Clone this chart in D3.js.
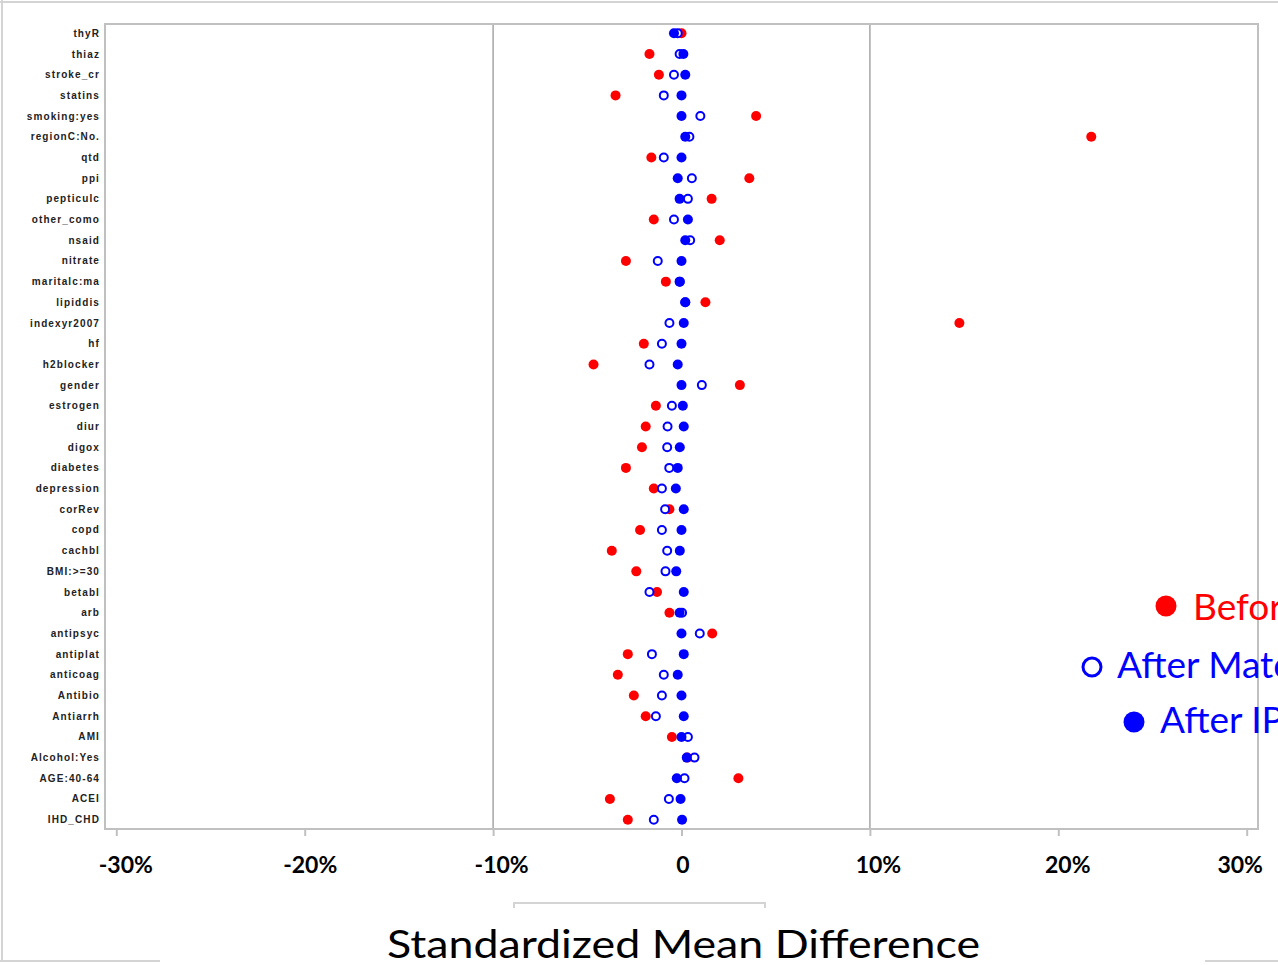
<!DOCTYPE html>
<html lang="en">
<head>
    <meta charset="UTF-8">
    <title>Standardized Mean Difference</title>
    <script src="https://d3js.org/d3.v7.min.js"></script>
    <style>
        body {
            margin: 0;
            background: #fff;
        }
        svg {
            display: block;
        }
        .cov-label {
            font-family: Arial, "Liberation Sans", sans-serif;
            font-size: 10px;
            font-weight: bold;
            letter-spacing: 1.1px;
            fill: #222;
        }
        .tick-label {
            font-family: Lato, sans-serif;
            font-size: 23px;
            font-weight: bold;
            fill: #000;
        }
        .legend-text {
            font-family: Lato, sans-serif;
            font-size: 37px;
        }
        .title {
            font-family: Lato, sans-serif;
            font-size: 39px;
            fill: #000;
        }
    </style>
</head>
<body>
    <div id="chart"></div>

    <script>
        // covariates, top to bottom
        const covariates = ["thyR", "thiaz", "stroke_cr", "statins", "smoking:yes", "regionC:No.", "qtd", "ppi",
            "pepticulc", "other_como", "nsaid", "nitrate", "maritalc:ma", "lipiddis", "indexyr2007", "hf",
            "h2blocker", "gender", "estrogen", "diur", "digox", "diabetes", "depression", "corRev", "copd",
            "cachbl", "BMI:>=30", "betabl", "arb", "antipsyc", "antiplat", "anticoag", "Antibio", "Antiarrh",
            "AMI", "Alcohol:Yes", "AGE:40-64", "ACEI", "IHD_CHD"];

        // standardized mean differences, in percent
        const beforeMatching = [0.0, -1.7, -1.2, -3.5, 3.96, 21.75, -1.6, 3.6,
            1.6, -1.47, 2.03, -2.95, -0.83, 1.27, 14.75, -2.0,
            -4.67, 3.1, -1.36, -1.9, -2.1, -2.95, -1.47, -0.64, -2.2,
            -3.7, -2.4, -1.3, -0.64, 1.63, -2.85, -3.38, -2.53, -1.9,
            -0.51, 0.3, 3.02, -3.8, -2.85];
        const afterMatching = [-0.2, -0.1, -0.4, -0.94, 1.0, 0.42, -0.94, 0.55,
            0.34, -0.4, 0.46, -1.26, -0.1, 0.2, -0.64, -1.04,
            -1.7, 1.08, -0.51, -0.74, -0.76, -0.65, -1.04, -0.87, -1.04,
            -0.76, -0.85, -1.7, 0.03, 0.97, -1.57, -0.94, -1.04, -1.36,
            0.34, 0.69, 0.16, -0.67, -1.47];
        const afterIPTW = [-0.4, 0.1, 0.2, 0.0, 0.0, 0.2, 0.0, -0.2,
            -0.1, 0.34, 0.2, 0.0, -0.09, 0.2, 0.12, 0.0,
            -0.2, 0.0, 0.07, 0.12, -0.09, -0.2, -0.3, 0.12, 0.0,
            -0.09, -0.28, 0.12, -0.1, 0.0, 0.12, -0.2, 0.0, 0.12,
            0.0, 0.28, -0.25, -0.05, 0.03];

        const xTicks = [-30, -20, -10, 0, 10, 20, 30];
        const xTickLabels = ["-30%", "-20%", "-10%", "0", "10%", "20%", "30%"];
        const refLines = [-10, 10];

        const legendItems = ["Before Matching", "After Matching", "After IPTW"];

        const width = 1278;
        const height = 965;
        const plot = { left: 105, right: 1258, top: 24, bottom: 829 };
        // labels sit a little off their ticks in the original
        const tickLabelShift = [9, 5, 8, 1, 8, 9, -7];

        const svg = d3.select("#chart")
            .append("svg")
            .attr("width", width)
            .attr("height", height);

        const x = d3.scaleLinear()
            .domain([-30.6, 30.6])
            .range([plot.left, plot.right]);

        const y = d3.scalePoint()
            .domain(covariates)
            .range([plot.top, plot.bottom])
            .padding(0.45);

        // outer slide frame
        svg.append("g")
            .attr("stroke", "#d4d4d4")
            .attr("stroke-width", 2)
            .selectAll("line")
            .data([[0, 2, width, 2], [2, 0, 2, 962], [0, 961, 160, 961], [1205, 961, width, 961]])
            .enter()
            .append("line")
            .attr("x1", d => d[0]).attr("y1", d => d[1])
            .attr("x2", d => d[2]).attr("y2", d => d[3]);

        // reference lines at +/-10%
        svg.append("g")
            .selectAll("line")
            .data(refLines)
            .enter()
            .append("line")
            .attr("x1", d => x(d)).attr("x2", d => x(d))
            .attr("y1", plot.top).attr("y2", plot.bottom)
            .attr("stroke", "#a6a6a6")
            .attr("stroke-width", 1.5);

        // plot frame
        svg.append("rect")
            .attr("x", plot.left)
            .attr("y", plot.top)
            .attr("width", plot.right - plot.left)
            .attr("height", plot.bottom - plot.top)
            .attr("fill", "none")
            .attr("stroke", "#c0c0c0")
            .attr("stroke-width", 2);

        // x axis ticks and labels
        const xAxis = svg.append("g")
            .attr("transform", `translate(0,${plot.bottom})`)
            .call(d3.axisBottom(x)
                .tickValues(xTicks)
                .tickSize(7)
                .tickFormat((d, i) => xTickLabels[i]));
        xAxis.select(".domain").remove();
        xAxis.selectAll(".tick line")
            .attr("stroke", "#c0c0c0")
            .attr("stroke-width", 2);
        xAxis.selectAll(".tick text")
            .attr("class", "tick-label")
            .attr("y", 44)
            .attr("dy", 0)
            .attr("dx", (d, i) => tickLabelShift[i])
            .attr("font-family", null)
            .attr("font-size", null);

        // covariate labels
        svg.append("g")
            .selectAll("text")
            .data(covariates)
            .enter()
            .append("text")
            .attr("class", "cov-label")
            .attr("x", plot.left - 5)
            .attr("y", d => y(d))
            .attr("dy", "0.35em")
            .attr("text-anchor", "end")
            .text(d => d);

        const rows = covariates.map((c, i) => ({
            name: c,
            before: beforeMatching[i],
            matched: afterMatching[i],
            iptw: afterIPTW[i]
        }));

        // before matching (red)
        svg.append("g")
            .selectAll("circle")
            .data(rows)
            .enter()
            .append("circle")
            .attr("cx", d => x(d.before))
            .attr("cy", d => y(d.name))
            .attr("r", 5)
            .attr("fill", "#ff0000");

        // after matching (open blue)
        svg.append("g")
            .selectAll("circle")
            .data(rows)
            .enter()
            .append("circle")
            .attr("cx", d => x(d.matched))
            .attr("cy", d => y(d.name))
            .attr("r", 4)
            .attr("fill", "#fff")
            .attr("stroke", "#0000ff")
            .attr("stroke-width", 2);

        // after IPTW (filled blue)
        svg.append("g")
            .selectAll("circle")
            .data(rows)
            .enter()
            .append("circle")
            .attr("cx", d => x(d.iptw))
            .attr("cy", d => y(d.name))
            .attr("r", 5)
            .attr("fill", "#0000ff");

        // legend (runs off the right edge, as in the original slide)
        const legendPos = [
            { mx: 1166, my: 606, tx: 1193, ty: 620, color: "#ff0000", open: false },
            { mx: 1092, my: 667, tx: 1117, ty: 678, color: "#0000ff", open: true },
            { mx: 1134, my: 722, tx: 1160, ty: 733, color: "#0000ff", open: false }
        ];
        const legend = svg.append("g")
            .selectAll("g")
            .data(legendItems)
            .enter()
            .append("g");
        legend.append("circle")
            .attr("cx", (d, i) => legendPos[i].mx)
            .attr("cy", (d, i) => legendPos[i].my)
            .attr("r", (d, i) => legendPos[i].open ? 9 : 10.5)
            .attr("fill", (d, i) => legendPos[i].open ? "#fff" : legendPos[i].color)
            .attr("stroke", (d, i) => legendPos[i].open ? legendPos[i].color : "none")
            .attr("stroke-width", 3);
        legend.append("text")
            .attr("class", "legend-text")
            .attr("x", (d, i) => legendPos[i].tx)
            .attr("y", (d, i) => legendPos[i].ty)
            .attr("fill", (d, i) => legendPos[i].color)
            .text(d => d);

        // title box
        svg.append("path")
            .attr("d", "M514,908 V903 H765 V908")
            .attr("fill", "none")
            .attr("stroke", "#d4d4d4")
            .attr("stroke-width", 2);

        svg.append("text")
            .attr("class", "title")
            .attr("x", 387)
            .attr("y", 958)
            .attr("textLength", 593)
            .attr("lengthAdjust", "spacingAndGlyphs")
            .text("Standardized Mean Difference");
    </script>
</body>
</html>
